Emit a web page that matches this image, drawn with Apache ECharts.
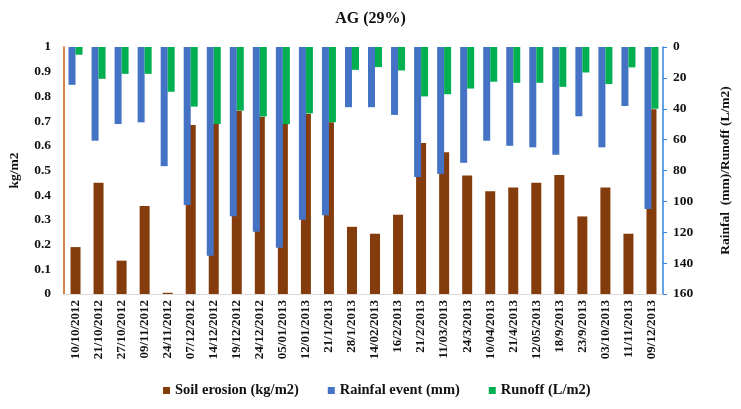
<!DOCTYPE html>
<html>
<head>
<meta charset="utf-8">
<script src="https://cdn.jsdelivr.net/npm/echarts@6/dist/echarts.min.js"></script>
<style>
html, body { margin: 0; padding: 0; background: #fff; }
#chart { width: 741px; height: 409px; }
</style>
</head>
<body>
<div id="chart"></div>
<script>
// dates of the events
var dates = ["10/10/2012", "21/10/2012", "27/10/2012", "09/11/2012", "24/11/2012", "07/12/2012",
    "14/12/2012", "19/12/2012", "24/12/2012", "05/01/2013", "12/01/2013", "21/1/2013", "28/1/2013",
    "14/02/2013", "16/2/2013", "21/2/2013", "11/03/2013", "24/3/2013", "10/04/2013", "21/4/2013",
    "12/05/2013", "18/9/2013", "23/9/2013", "03/10/2013", "11/11/2013", "09/12/2013"];
// kg/m2
var soilErosion = [0.19, 0.45, 0.135, 0.356, 0.005, 0.684, 0.688, 0.742, 0.718, 0.688, 0.73, 0.695, 0.272,
    0.244, 0.321, 0.611, 0.574, 0.48, 0.416, 0.431, 0.45, 0.482, 0.314, 0.431, 0.244, 0.748];
// mm
var rainfall = [24.5, 60.7, 49.9, 48.8, 77.2, 102.4, 135.3, 109.7, 119.7, 130, 111.9, 109, 39,
    39, 44, 84.2, 82.2, 75, 60.7, 64, 65, 69.8, 44.9, 65, 38.2, 105];
// L/m2
var runoff = [5, 20.6, 17.4, 17.4, 29, 38.6, 49.9, 41.2, 45, 50, 43, 48.7, 14.8,
    13, 15.2, 32, 30.6, 26.9, 22.5, 23.2, 23.2, 25.8, 16.5, 24, 13.2, 40];
var leftTicks = [0, 1, 0.1];
var rightTicks = [0, 160, 20];

var font = "'Liberation Serif', 'Times New Roman', serif";
var myChart = echarts.init(document.getElementById("chart"));
myChart.setOption({
    animation: false,
    textStyle: { fontFamily: font },
    title: {
        text: "AG (29%)",
        left: "center",
        top: 6,
        textStyle: { fontFamily: font, fontSize: 16, fontWeight: "bold", color: "#111" },
    },
    legend: {
        left: 158,
        top: 378,
        itemWidth: 7,
        itemHeight: 7,
        itemGap: 29,
        icon: "rect",
        textStyle: { fontFamily: font, fontSize: 14.5, fontWeight: "bold", color: "#111" },
        data: ["Soil erosion (kg/m2)", "Rainfal event (mm)", "Runoff (L/m2)"],
    },
    grid: { left: 63, right: 57, top: 47, bottom: 115 },
    xAxis: [{
        type: "category",
        data: dates,
        axisLine: { lineStyle: { color: "#d9d9d9" } },
        axisTick: { show: false },
        axisLabel: {
            rotate: 90,
            interval: 0,
            margin: 6,
            fontFamily: font,
            fontSize: 13,
            fontWeight: "bold",
            color: "#111",
        },
    }, {
        type: "category",
        data: dates,
        position: "bottom",
        show: false,
    }, ],
    yAxis: [{
        type: "value",
        min: leftTicks[0],
        max: leftTicks[1],
        interval: leftTicks[2],
        name: "kg/m2",
        nameLocation: "middle",
        nameRotate: 90,
        nameGap: 42,
        nameTextStyle: { fontFamily: font, fontSize: 13.5, fontWeight: "bold", color: "#111" },
        axisLine: { show: true, lineStyle: { color: "#c55a11", width: 1.5 } },
        axisTick: { show: false },
        splitLine: { show: false },
        axisLabel: { fontFamily: font, fontSize: 13.5, fontWeight: "bold", color: "#111", margin: 13 },
    }, {
        type: "value",
        inverse: true,
        position: "right",
        min: rightTicks[0],
        max: rightTicks[1],
        interval: rightTicks[2],
        name: "Rainfal  (mm)/Runoff (L/m2)",
        nameLocation: "middle",
        nameRotate: 90,
        nameGap: 56,
        nameTextStyle: { fontFamily: font, fontSize: 13.5, fontWeight: "bold", color: "#111" },
        axisLine: { show: true, lineStyle: { color: "#2e86de", width: 1.5 } },
        axisTick: { show: true, length: 4, lineStyle: { color: "#2e86de" } },
        splitLine: { show: false },
        axisLabel: { fontFamily: font, fontSize: 13.5, fontWeight: "bold", color: "#111", margin: 10 },
    }, ],
    series: [{
        name: "Soil erosion (kg/m2)",
        type: "bar",
        xAxisIndex: 0,
        yAxisIndex: 0,
        barWidth: 10,
        itemStyle: { color: "#843c0c" },
        data: soilErosion,
    }, {
        name: "Rainfal event (mm)",
        type: "bar",
        xAxisIndex: 1,
        yAxisIndex: 1,
        barWidth: 7,
        barGap: 0,
        itemStyle: { color: "#4472c4" },
        data: rainfall,
    }, {
        name: "Runoff (L/m2)",
        type: "bar",
        xAxisIndex: 1,
        yAxisIndex: 1,
        barWidth: 7,
        barGap: 0,
        itemStyle: { color: "#00b050" },
        data: runoff,
    }, ],
});
</script>
</body>
</html>
